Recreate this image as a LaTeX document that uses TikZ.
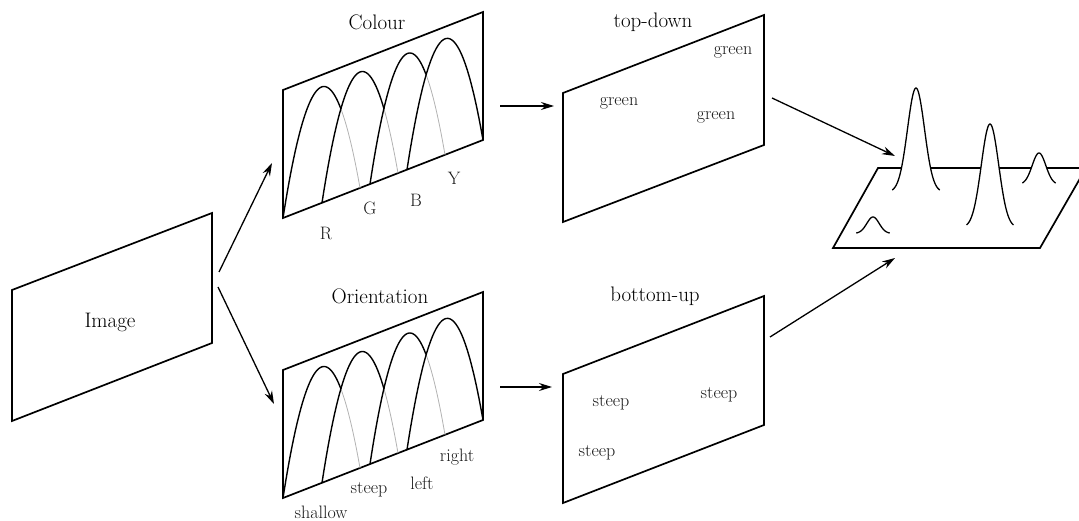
\documentclass[tikz,border=0pt]{standalone}
\usepackage{fontspec}
\usetikzlibrary{arrows.meta}
\newcommand\archcurve[5]{% x0, W, t0, t1, yoffset
  plot[domain=#3:#4, samples=40, variable=\t]
  ({#1+#2*\t}, {218+#5-0.39*(#1+#2*\t-283)-464*\t*(1-\t)})}
\newcommand\archgroup[1]{%
  \draw[arch] \archcurve{283}{77}{0}{0.753}{#1};
  \draw[archfaint] \archcurve{283}{77}{0.753}{1}{#1};
  \draw[arch] \archcurve{322}{76}{0}{0.816}{#1};
  \draw[archfaint] \archcurve{322}{76}{0.816}{1}{#1};
  \draw[arch] \archcurve{370}{75}{0}{0.747}{#1};
  \draw[archfaint] \archcurve{370}{75}{0.747}{1}{#1};
  \draw[arch] \archcurve{407}{76}{0}{1}{#1};
}
\newcommand\gaussbump[5]{% centre, base, sigma, amplitude, tmax
  \pgfmathsetmacro\ezero{exp(-#5*#5/2)}
  \fill[white] plot[domain=-#5:#5, samples=60, variable=\t]
    ({#1+#3*\t},{#2-#4*(exp(-\t*\t/2)-\ezero)/(1-\ezero)}) -- cycle;
  \draw[gauss] plot[domain=-#5:#5, samples=60, variable=\t]
    ({#1+#3*\t},{#2-#4*(exp(-\t*\t/2)-\ezero)/(1-\ezero)});
}
\begin{document}
\begin{tikzpicture}[x=1pt,y=-1pt,
  panel/.style={draw,line width=1.7pt,line join=miter},
  arch/.style={line width=1.4pt},
  archfaint/.style={line width=0.8pt,black!30},
  gauss/.style={line width=1.3pt},
  conn/.style={line width=1.3pt,-{Stealth[length=13pt,width=8pt]}},
  title/.style={font=\fontsize{21}{23}\selectfont,text=black},
  lab/.style={font=\fontsize{18}{20}\selectfont,text=black!90},
]
\useasboundingbox (0,0) rectangle (1079,521);

% panels
\draw[panel] (12,290) -- (212,213) -- (212,343) -- (12,421) -- cycle;
\draw[panel] (283,90) -- (483,12) -- (483,140) -- (283,218) -- cycle;
\draw[panel] (283,370) -- (483,292) -- (483,420) -- (283,498) -- cycle;
\draw[panel] (563,93) -- (764,15) -- (764,145) -- (563,222) -- cycle;
\draw[panel] (563,374) -- (764,296) -- (764,425) -- (563,503) -- cycle;

% tuning curves
\archgroup{0}
\archgroup{280}

% saliency plane
\draw[panel] (878,168) -- (1086,168) -- (1040,248) -- (833,248) -- cycle;
\gaussbump{873}{233}{6.2}{16}{2.7}
\gaussbump{916}{190}{8.5}{102}{2.8}
\gaussbump{990}{225}{8.7}{101}{2.7}
\gaussbump{1039}{183}{6.8}{30}{2.45}

% labels
\node[title] (img) at (110,322) {Image};
\node[title] (col) at (377,22) {Colour};
\node[title] (ori) at (380,296) {Orientation};
\node[title] (td) at (653,22) {top-down};
\node[title] (bu) at (655,296) {bottom-up};

\node[lab] (g1) at (733,52) {green};
\node[lab] (g2) at (619,103) {green};
\node[lab] (g3) at (716,117) {green};
\node[lab] (s1) at (611,403) {steep};
\node[lab] (s2) at (719,395) {steep};
\node[lab] (s3) at (597,453) {steep};

\node[lab] (lR) at (326,233) {R};
\node[lab] (lG) at (370,208) {G};
\node[lab] (lB) at (416,200) {B};
\node[lab] (lY) at (454,178) {Y};
\node[lab] (lsh) at (321,512) {shallow};
\node[lab] (lst) at (369,490) {steep};
\node[lab] (lle) at (422,483) {left};
\node[lab] (lri) at (457,457) {right};

% connector end points
\coordinate (imgA) at (219,272);
\coordinate (imgB) at (218,287);
\coordinate (colIn) at (272,163);
\coordinate (oriIn) at (274,404);
\coordinate (colOut) at (500,106);
\coordinate (tdIn) at (554,106);
\coordinate (oriOut) at (500,387);
\coordinate (buIn) at (552,387);
\coordinate (tdOut) at (772,98);
\coordinate (planeA) at (895,156);
\coordinate (buOut) at (770,337);
\coordinate (planeB) at (895,258);

\draw[conn] (imgA) -- (colIn);
\draw[conn] (imgB) -- (oriIn);
\draw[conn] (colOut) -- (tdIn);
\draw[conn] (oriOut) -- (buIn);
\draw[conn] (tdOut) -- (planeA);
\draw[conn] (buOut) -- (planeB);
\end{tikzpicture}
\end{document}
